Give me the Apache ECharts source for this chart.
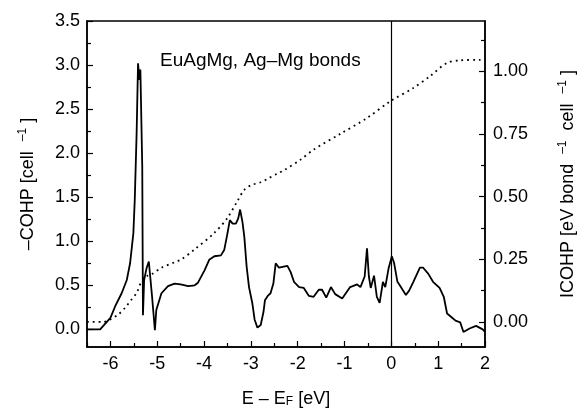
<!DOCTYPE html>
<html>
<head>
<meta charset="utf-8">
<script src="https://cdn.jsdelivr.net/npm/echarts@6/dist/echarts.min.js"></script>
<style>
    body { margin: 0; background: #fff; }
    #main { width: 577px; height: 410px; }
</style>
</head>
<body>
<div id="main"></div>
<script>
    // -COHP (left axis), solid line
    var cohpE = [-6.5, -6.22, -6.1, -6.0, -5.9, -5.76, -5.65, -5.58, -5.51, -5.48, -5.44, -5.41, -5.38, -5.36, -5.32, -5.305,
        -5.28, -5.23, -5.18, -5.15, -5.11, -5.05, -5.02, -4.91, -4.77, -4.63, -4.5, -4.34, -4.2, -4.13, -3.99, -3.89, -3.78,
        -3.64, -3.57, -3.5, -3.45, -3.39, -3.32, -3.27, -3.23, -3.18, -3.14, -3.09, -3.04, -2.97, -2.92, -2.86, -2.79, -2.73,
        -2.7, -2.64, -2.58, -2.52, -2.47, -2.4, -2.22, -2.15, -2.08, -1.97, -1.87, -1.76, -1.66, -1.55, -1.48, -1.39, -1.29,
        -1.2, -1.05, -0.88, -0.73, -0.66, -0.57, -0.52, -0.48, -0.44, -0.37, -0.31, -0.25, -0.18, -0.13, -0.06, 0.01, 0.06,
        0.13, 0.18, 0.31, 0.38, 0.47, 0.61, 0.68, 0.79, 0.89, 1.03, 1.12, 1.19, 1.28, 1.37, 1.47, 1.54, 1.67, 1.81, 1.95, 2.0];
    var cohpVal = [0.0, 0.0, 0.07, 0.13, 0.26, 0.41, 0.56, 0.75, 1.09, 1.47, 2.23, 3.02, 2.83, 2.95, 1.85, 0.16,
        0.56, 0.69, 0.77, 0.6, 0.37, -0.01, 0.22, 0.41, 0.49, 0.52, 0.51, 0.49, 0.5, 0.53, 0.67, 0.79, 0.83,
        0.84, 0.9, 1.09, 1.24, 1.2, 1.2, 1.26, 1.36, 1.22, 1.05, 0.71, 0.48, 0.3, 0.11, 0.02, 0.05, 0.2,
        0.33, 0.38, 0.41, 0.52, 0.75, 0.7, 0.72, 0.65, 0.54, 0.48, 0.47, 0.38, 0.37, 0.45, 0.45, 0.36, 0.48,
        0.4, 0.35, 0.48, 0.51, 0.48, 0.6, 0.92, 0.6, 0.47, 0.61, 0.37, 0.3, 0.54, 0.48, 0.69, 0.83, 0.75,
        0.54, 0.5, 0.39, 0.44, 0.54, 0.7, 0.7, 0.63, 0.54, 0.47, 0.37, 0.18, 0.14, 0.1, 0.08, -0.03, 0.01, 0.04, 0.0, -0.03];

    // ICOHP (right axis), dotted line
    var icohpE = [-6.5, -6.15, -6.0, -5.83, -5.69, -5.55, -5.44, -5.35, -5.3, -5.2, -5.12, -4.91, -4.63, -4.49, -4.21,
        -3.78, -3.5, -3.29, -3.14, -3.0, -2.79, -2.61, -2.43, -2.29, -1.94, -1.66, -1.09, -0.52, -0.03, 0.47, 0.82,
        1.18, 1.46, 1.88, 2.0];
    var icohpVal = [0.0, 0.0, 0.01, 0.03, 0.056, 0.089, 0.116, 0.156, 0.169, 0.185, 0.19, 0.216, 0.238, 0.249, 0.288,
        0.355, 0.415, 0.481, 0.527, 0.545, 0.557, 0.574, 0.592, 0.605, 0.647, 0.687, 0.75, 0.813, 0.879, 0.933, 0.979,
        1.032, 1.043, 1.045, 1.045];

    var xTicks = [-6, -5, -4, -3, -2, -1, 0, 1, 2];
    var xMinor = [-6.5, -5.5, -4.5, -3.5, -2.5, -1.5, -0.5, 0.5, 1.5];
    var leftTicks = [0, 0.5, 1, 1.5, 2, 2.5, 3, 3.5];
    var leftMinor = [0.25, 0.75, 1.25, 1.75, 2.25, 2.75, 3.25];
    var rightTicks = [0, 0.25, 0.5, 0.75, 1.0];
    var rightMinor = [0.125, 0.375, 0.625, 0.875, 1.125];

    function pairs(xs, ys) {
        return xs.map(function (x, i) { return [x, ys[i]]; });
    }

    var font = 'Liberation Sans';
    var titleRich = {
        a: { fontSize: 18, fontFamily: font, color: '#000', verticalAlign: 'bottom' },
        s: { fontSize: 12, fontFamily: font, color: '#000', verticalAlign: 'bottom', padding: [0, 0, 8, 0] },
        b: { fontSize: 12, fontFamily: font, color: '#000', verticalAlign: 'top', padding: [9, 0, 0, 0] }
    };
    var tickStyle = { color: '#000', width: 1.2 };

    var chart = echarts.init(document.getElementById('main'));

    var option = {
        animation: false,
        textStyle: { fontFamily: font, color: '#000' },
        grid: {
            left: 87, right: 92, top: 21, bottom: 63,
            outerBoundsMode: 'none',
            show: true, borderColor: '#000', borderWidth: 1.5
        },
        graphic: [{
            type: 'text', left: 160, top: 51,
            style: { text: 'EuAgMg, Ag–Mg bonds', font: '19px Liberation Sans', fill: '#000' }
        }],
        xAxis: [{
            type: 'value', min: -6.5, max: 2,
            name: '{a|E – E}{b|F}{a| [eV]}',
            nameLocation: 'middle', nameGap: 40,
            nameTextStyle: { rich: titleRich },
            splitLine: { show: false },
            axisLine: { onZero: false, lineStyle: { color: '#000', width: 1.5 } },
            axisTick: { inside: true, length: 6, customValues: xTicks, lineStyle: tickStyle },
            axisLabel: { customValues: xTicks, fontSize: 18, color: '#000', margin: 8 }
        }, {
            type: 'value', min: -6.5, max: 2, position: 'bottom',
            splitLine: { show: false },
            axisLine: { show: false, onZero: false },
            axisTick: { inside: true, length: 4, customValues: xMinor, lineStyle: tickStyle },
            axisLabel: { show: false }
        }],
        yAxis: [{
            type: 'value', min: -0.2, max: 3.5, position: 'left',
            name: '{a|–COHP [cell  }{s|–1}{a| ]}',
            nameLocation: 'middle', nameRotate: 90, nameGap: 50,
            nameTextStyle: { rich: titleRich },
            splitLine: { show: false },
            axisLine: { show: true, onZero: false, lineStyle: { color: '#000', width: 1.5 } },
            axisTick: { inside: true, length: 6, customValues: leftTicks, lineStyle: tickStyle },
            axisLabel: {
                customValues: leftTicks, fontSize: 18, color: '#000', margin: 7,
                formatter: function (v) { return v.toFixed(1); }
            }
        }, {
            type: 'value', min: -0.1, max: 1.2, position: 'right',
            name: '{a|ICOHP [eV bond  }{s|–1}{a|  cell  }{s|–1}{a| ]}',
            nameLocation: 'middle', nameRotate: 90, nameGap: 72,
            nameTextStyle: { rich: titleRich },
            splitLine: { show: false },
            axisLine: { show: true, onZero: false, lineStyle: { color: '#000', width: 1.5 } },
            axisTick: { inside: true, length: 6, customValues: rightTicks, lineStyle: tickStyle },
            axisLabel: {
                customValues: rightTicks, fontSize: 18, color: '#000', margin: 8,
                formatter: function (v) { return v.toFixed(2); }
            }
        }, {
            type: 'value', min: -0.2, max: 3.5, position: 'left',
            splitLine: { show: false },
            axisLine: { show: false, onZero: false },
            axisTick: { inside: true, length: 4, customValues: leftMinor, lineStyle: tickStyle },
            axisLabel: { show: false }
        }, {
            type: 'value', min: -0.1, max: 1.2, position: 'right',
            splitLine: { show: false },
            axisLine: { show: false, onZero: false },
            axisTick: { inside: true, length: 4, customValues: rightMinor, lineStyle: tickStyle },
            axisLabel: { show: false }
        }],
        series: [{
            type: 'line',
            xAxisIndex: 0, yAxisIndex: 0,
            data: pairs(cohpE, cohpVal),
            showSymbol: false,
            lineStyle: { color: '#000', width: 1.8 },
            markLine: {
                silent: true, symbol: 'none', label: { show: false },
                lineStyle: { color: '#000', width: 1.2, type: 'solid' },
                data: [{ xAxis: 0 }]
            }
        }, {
            type: 'line',
            xAxisIndex: 0, yAxisIndex: 1,
            data: pairs(icohpE, icohpVal),
            showSymbol: false,
            smooth: 0.3,
            lineStyle: { color: '#000', width: 1.8, type: [1.8, 4] }
        }]
    };

    chart.setOption(option);
</script>
</body>
</html>
